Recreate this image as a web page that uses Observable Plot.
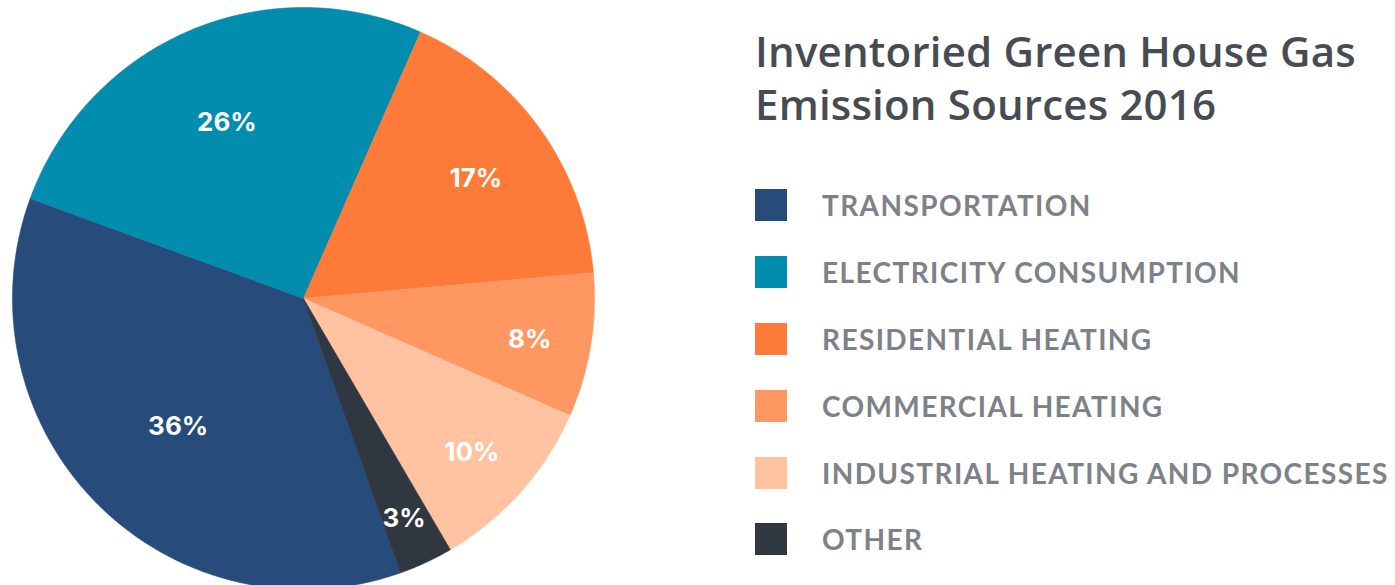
<!DOCTYPE html>
<html>
<head>
<meta charset="utf-8">
<script src="https://cdn.jsdelivr.net/npm/d3@7"></script>
<script src="https://cdn.jsdelivr.net/npm/@observablehq/plot@0.6"></script>
<style>
  html, body { margin: 0; padding: 0; background: #fff; }
  #wrap { position: relative; width: 1395px; height: 585px; overflow: hidden; }
  #chart { position: absolute; left: 0; top: 0; }
  #side { position: absolute; left: 755px; top: 24px; }
  #title { color: #474c53; font-family: "Open Sans", Lato, sans-serif; font-size: 42px; line-height: 53px; font-weight: 600; margin: 0; letter-spacing: 0.2px; }
  #legend { margin-top: 42px; font-family: Lato, "Open Sans", sans-serif; }
  .item { display: flex; align-items: center; height: 66.8px; }
  .sw { width: 32px; height: 32px; margin-right: 35px; flex: none; }
  .lab { color: #7d8289; font-size: 28px; font-weight: 700; letter-spacing: 1.4px; white-space: nowrap; }
</style>
</head>
<body>
<div id="wrap">
  <div id="chart"></div>
  <div id="side">
    <div id="title">Inventoried Green House Gas<br>Emission Sources 2016</div>
    <div id="legend"></div>
  </div>
</div>
<script>
// ---- data ----
const categories = ["TRANSPORTATION", "ELECTRICITY CONSUMPTION", "RESIDENTIAL HEATING", "COMMERCIAL HEATING", "INDUSTRIAL HEATING AND PROCESSES", "OTHER"];
const values = [36, 26, 17, 8, 10, 3];
const colors = ["#274b7a", "#028cae", "#fd7a38", "#ff9762", "#ffc3a1", "#2f3741"];
const startAngleDeg = 160.5; // clockwise from north

// ---- geometry (unit radius, from d3.pie) ----
const W = 1395, H = 585;
const R = 291, cx = 303, cy = 298;
const pie = d3.pie().sort(null).value(d => d.value)
  .startAngle(startAngleDeg * Math.PI / 180)
  .endAngle(startAngleDeg * Math.PI / 180 + 2 * Math.PI);
const arcs = pie(categories.map((c, i) => ({category: c, value: values[i]})));

const pts = [];
for (const a of arcs) {
  const c = a.data.category;
  pts.push({category: c, x: 0, y: 0});
  const n = Math.max(8, Math.ceil((a.endAngle - a.startAngle) / 0.01));
  for (let k = 0; k <= n; k++) {
    const t = a.startAngle + (a.endAngle - a.startAngle) * k / n;
    pts.push({category: c, x: Math.sin(t), y: Math.cos(t)});
  }
  pts.push({category: c, x: 0, y: 0});
}
const labels = arcs.map(a => {
  const m = (a.startAngle + a.endAngle) / 2;
  const r = 0.84 - a.data.value * 0.0065;
  return {x: r * Math.sin(m), y: r * Math.cos(m), text: a.data.value + "%"};
});

const plot = Plot.plot({
  width: W, height: H,
  margin: 0,
  x: {domain: [-cx / R, (W - cx) / R], axis: null},
  y: {domain: [-(H - cy) / R, cy / R], axis: null},
  color: {domain: categories, range: colors},
  marks: [
    Plot.line(pts, {x: "x", y: "y", z: "category", fill: "category", stroke: "category", strokeWidth: 0.6, curve: "linear"}),
    Plot.text(labels, {x: "x", y: "y", dy: 4, text: "text", fill: "white", fontSize: 26, fontWeight: 700, fontFamily: "Inter, 'Open Sans', sans-serif"})
  ]
});
document.getElementById("chart").appendChild(plot);

const lg = document.getElementById("legend");
categories.forEach((c, i) => {
  const it = document.createElement("div");
  it.className = "item";
  it.innerHTML = `<div class="sw" style="background:${colors[i]}"></div><div class="lab">${c}</div>`;
  lg.appendChild(it);
});
</script>
</body>
</html>
